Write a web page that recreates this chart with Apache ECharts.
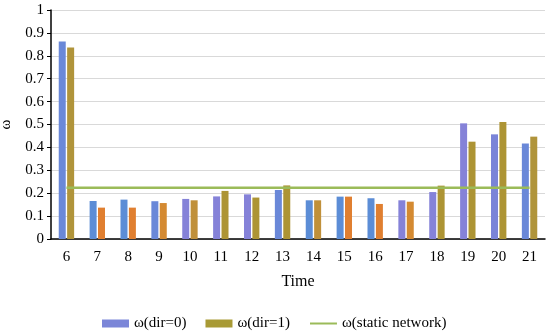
<!DOCTYPE html>
<html>
<head>
<meta charset="utf-8">
<script src="https://cdn.jsdelivr.net/npm/echarts@6/dist/echarts.min.js"></script>
<style>html,body{margin:0;padding:0;background:#fff}#c{width:550px;height:333px}</style>
</head>
<body>
<div id="c"></div>
<script>
var categories = ['6','7','8','9','10','11','12','13','14','15','16','17','18','19','20','21'];
var dir0 = [0.862,0.166,0.172,0.165,0.175,0.186,0.195,0.214,0.169,0.185,0.178,0.169,0.205,0.505,0.457,0.417];
var dir1 = [0.836,0.137,0.137,0.157,0.169,0.210,0.181,0.234,0.169,0.185,0.153,0.163,0.233,0.425,0.511,0.447];
var staticNet = [0.224,0.224,0.224,0.224,0.224,0.224,0.224,0.224,0.224,0.224,0.224,0.224,0.224,0.224,0.224,0.224];
var seriesNames = ['ω(dir=0)','ω(dir=1)','ω(static network)'];

// per-bar tints seen in the reference (style only)
var c0 = ['#6a88d8','#5c8dd6','#5c8dd6','#6a88d8','#8582d8','#8582d8','#8582d8','#6a88d8','#5c8dd6','#5c8dd6','#5c8dd6','#8582d8','#8582d8','#8582d8','#7a84d8','#6a88d8'];
var c1 = ['#b0943a','#e07f30','#e07f30','#d48a32','#c0903a','#ad9434','#ad9434','#ad9434','#c0903a','#e07f30','#e07f30','#d48a32','#ad9434','#ad9434','#ad9434','#b0943a'];

var font = "'Liberation Serif', 'Times New Roman', serif";
var chart = echarts.init(document.getElementById('c'));
chart.setOption({
  animation: false,
  grid: {left: 51, right: 5, top: 10, bottom: 94, containLabel: false, outerBoundsMode: 'none'},
  legend: {
    left: 97, top: 311, itemWidth: 27, itemHeight: 8, itemGap: 19,
    textStyle: {fontFamily: font, fontSize: 15, color: '#000'},
    data: [
      {name: seriesNames[0], icon: 'rect', itemStyle: {color: '#7b86d8'}},
      {name: seriesNames[1], icon: 'rect', itemStyle: {color: '#a89a35'}},
      {name: seriesNames[2], itemStyle: {opacity: 0}, lineStyle: {color: '#9bbb59', width: 2}}
    ]
  },
  xAxis: {
    type: 'category', data: categories,
    name: 'Time', nameLocation: 'middle', nameGap: 35,
    nameTextStyle: {fontFamily: font, fontSize: 16, color: '#000'},
    axisLine: {lineStyle: {color: '#000', width: 1.5}},
    axisTick: {show: false},
    axisLabel: {fontFamily: font, fontSize: 15, color: '#000', margin: 11}
  },
  yAxis: {
    type: 'value', min: 0, max: 1, interval: 0.1,
    name: 'ω', nameLocation: 'middle', nameGap: 37, nameRotate: 90,
    nameTextStyle: {fontFamily: font, fontSize: 15, color: '#000'},
    axisLine: {show: true, lineStyle: {color: '#000', width: 1.5}},
    axisTick: {show: true, inside: false, length: 4, lineStyle: {color: '#000'}},
    axisLabel: {fontFamily: font, fontSize: 15, color: '#000', margin: 7,
      formatter: function(v){ return String(Math.round(v*10)/10); }},
    splitLine: {lineStyle: {color: '#d9d9d9', width: 1}}
  },
  series: [
    {name: seriesNames[0], type: 'bar', barWidth: 7, barGap: '20%',
     data: dir0.map(function(v,i){ return {value: v, itemStyle: {color: c0[i]}}; }),
     itemStyle: {color: '#7b86d8'}},
    {name: seriesNames[1], type: 'bar', barWidth: 7, barGap: '20%',
     data: dir1.map(function(v,i){ return {value: v, itemStyle: {color: c1[i]}}; }),
     itemStyle: {color: '#a89a35'}},
    {name: seriesNames[2], type: 'line', data: staticNet, symbol: 'none', showSymbol: false,
     lineStyle: {color: '#9bbb59', width: 2.5}, itemStyle: {color: '#9bbb59'}, z: 5}
  ]
});
</script>
</body>
</html>
